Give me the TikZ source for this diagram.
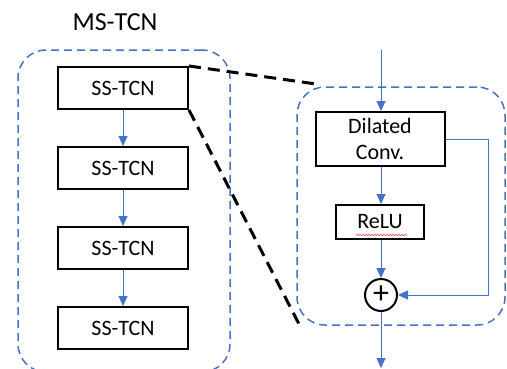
\documentclass[tikz,border=0pt]{standalone}
\usepackage{fontspec}
\setmainfont{Carlito}
\usetikzlibrary{arrows.meta, positioning, decorations.pathmorphing}
\definecolor{cblue}{HTML}{4472C4}
\definecolor{cred}{HTML}{E8474A}
\tikzset{
  every picture/.style={font=\fontsize{22}{27}\selectfont},
  block/.style={draw=black, line width=2pt, minimum width=#1, minimum height=42pt, inner sep=0pt, align=center},
  block/.default=130pt,
  group/.style={draw=cblue, dash pattern=on 8pt off 5pt, line width=1.5pt, rounded corners=28pt, inner sep=0pt},
  flow/.style={-{Triangle[length=10pt, width=9pt]}, draw=cblue, line width=1pt},
  zoomline/.style={draw=black, dash pattern=on 12pt off 7pt, line width=3pt},
  sum/.style={circle, draw=black, line width=2pt, minimum size=32pt, inner sep=0pt, font=\fontsize{32}{32}\selectfont},
  title/.style={font=\fontsize{26}{30}\selectfont},
  squiggle/.style={draw=cred, line width=0.6pt, decorate, decoration={snake, amplitude=0.8pt, segment length=3pt}},
}

\begin{document}
\begin{tikzpicture}[x=1pt, y=-1pt]
  \useasboundingbox (0,0) rectangle (507,368);
  \clip (0,0) rectangle (507,368);

  % dashed frames
  \node[group, minimum width=212pt, minimum height=322pt] (ms) at (124,211) {};
  \node[group, minimum width=208pt, minimum height=238pt] (stage) at (401,206) {};
  \node[title] (mstitle) at (115,22) {MS-TCN};

  % left: stack of single stages
  \foreach \i/\y in {1/88, 2/168, 3/248, 4/328}
    \node[block] (ss\i) at (123,\y) {SS-TCN};
  \foreach \a/\b in {1/2, 2/3, 3/4}
    \draw[flow] (ss\a) -- (ss\b);

  % right: inside one stage
  \coordinate (in) at (381,50);
  \node[block=129pt, minimum height=54pt] (dconv) at (380,139) {Dilated\\[-1pt]Conv.};
  \node[block=88pt, minimum height=34pt] (relu) at (380,222) {ReLU};
  \node[sum] (add) at (381,295) {\raisebox{1pt}{+}};
  \coordinate (out) at (381,368);

  \draw[flow] (in) -- (in |- dconv.north);
  \draw[flow] (in |- dconv.south) -- (in |- relu.north);
  \draw[flow] (in |- relu.south) -- (add);
  \draw[flow] (dconv.east) -- ++(43,0) |- (add.east);
  \draw[flow] (add) -- (out);
  \draw[squiggle] ([xshift=21pt, yshift=5pt]relu.south west) -- ([xshift=-18pt, yshift=5pt]relu.south east);

  % zoom lines
  \coordinate (ztop) at (316,84);
  \coordinate (zbot) at (300,326);
  \draw[zoomline] (ss1.north east) -- (ztop);
  \draw[zoomline] (ss1.south east) -- (zbot);
\end{tikzpicture}
\end{document}
